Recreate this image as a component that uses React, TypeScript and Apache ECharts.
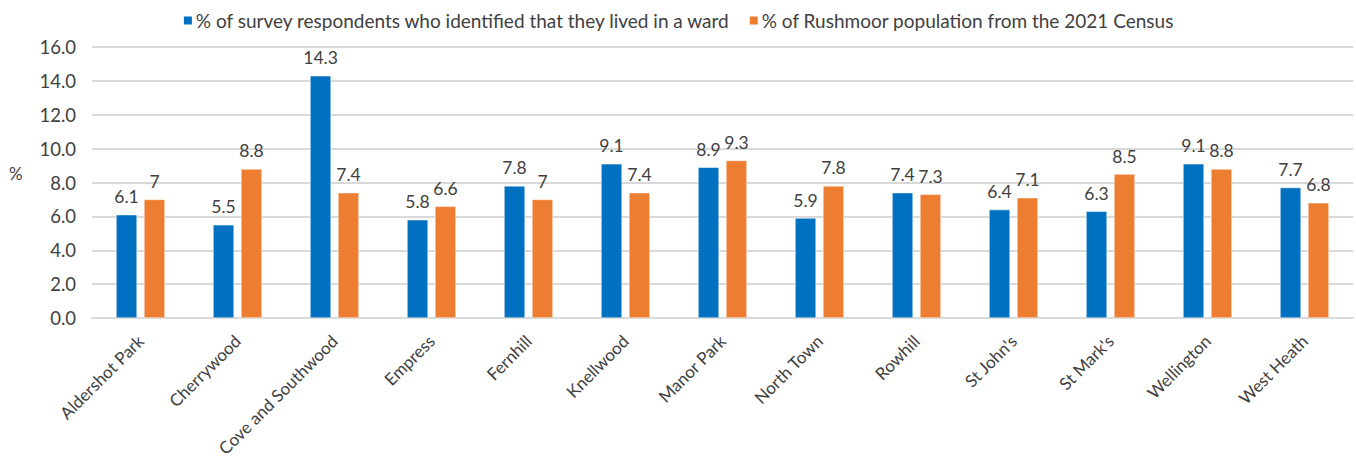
import React, { useEffect, useRef } from "react";
import * as echarts from "echarts";

const categories = ["Aldershot Park", "Cherrywood", "Cove and Southwood", "Empress", "Fernhill", "Knellwood", "Manor Park", "North Town", "Rowhill", "St John's", "St Mark's", "Wellington", "West Heath"];
const surveyValues = [6.1, 5.5, 14.3, 5.8, 7.8, 9.1, 8.9, 5.9, 7.4, 6.4, 6.3, 9.1, 7.7];
const censusValues = [7, 8.8, 7.4, 6.6, 7, 7.4, 9.3, 7.8, 7.3, 7.1, 8.5, 8.8, 6.8];
const seriesNames = ["% of survey respondents who identified that they lived in a ward", "% of Rushmoor population from the 2021 Census"];

const FONT = "Lato, 'Noto Sans', sans-serif";

export default function App() {
  const ref = useRef<HTMLDivElement>(null);
  useEffect(() => {
    document.body.style.margin = "0";
    const chart = echarts.init(ref.current!, null, { renderer: "svg" });
    const label = { show: true, position: "top", color: "#404040", fontSize: 17.5, fontFamily: FONT, distance: 9 };
    chart.setOption({
      animation: false,
      legend: {
        top: 6,
        left: "center",
        itemWidth: 10,
        itemHeight: 10,
        itemGap: 17,
        icon: "rect",
        textStyle: { color: "#404040", fontSize: 19, fontFamily: FONT, padding: [0, 0, 0, -2] },
      },
      grid: { left: 92, right: 3, top: 47, bottom: 147, containLabel: false, outerBoundsMode: "none" },
      graphic: [
        { type: "text", left: 9, top: 165, style: { text: "%", fontSize: 17, fontFamily: FONT, fill: "#404040" } },
      ],
      xAxis: {
        type: "category",
        data: categories,
        axisTick: { show: false },
        axisLine: { lineStyle: { color: "#d9d9d9", width: 2 } },
        axisLabel: { rotate: 45, color: "#404040", fontSize: 17, fontFamily: FONT, margin: 20, interval: 0 },
      },
      yAxis: {
        type: "value",
        min: 0,
        max: 16,
        interval: 2,
        axisLabel: { formatter: (v: number) => v.toFixed(1), color: "#404040", fontSize: 18.5, fontFamily: FONT, margin: 16 },
        splitLine: { lineStyle: { color: "#d9d9d9", width: 2 } },
        axisLine: { show: false },
      },
      series: [
        { name: seriesNames[0], type: "bar", data: surveyValues, barWidth: 21, barGap: "33%", itemStyle: { color: "#0070c0", borderColor: "#ffffff", borderWidth: 0.5 }, label },
        { name: seriesNames[1], type: "bar", data: censusValues, barWidth: 21, itemStyle: { color: "#ed7d31", borderColor: "#ffffff", borderWidth: 0.5 }, label },
      ],
    });
    return () => chart.dispose();
  }, []);
  return <div ref={ref} style={{ width: 1356, height: 465 }} />;
}
